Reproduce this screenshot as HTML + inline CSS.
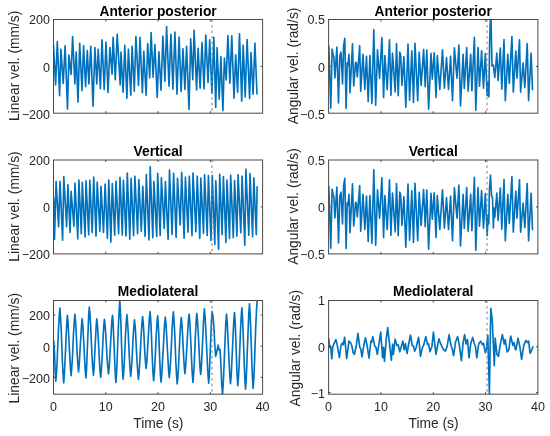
<!DOCTYPE html>
<html lang="en"><head><meta charset="utf-8"><title>Velocity signals</title>
<style>html,body{margin:0;padding:0;background:#fff}body{width:550px;height:436px;overflow:hidden}svg{display:block}text{font-family:"Liberation Sans",Arial,Helvetica,sans-serif}</style></head><body>
<svg width="550" height="436" viewBox="0 0 550 436">
<rect width="550" height="436" fill="#fff"/>
<defs>
<clipPath id="c1"><rect x="53.5" y="19.5" width="209.1" height="93.7"/></clipPath>
<clipPath id="c2"><rect x="328.6" y="19.5" width="209.3" height="93.7"/></clipPath>
<clipPath id="c3"><rect x="53.5" y="160.0" width="209.1" height="93.9"/></clipPath>
<clipPath id="c4"><rect x="328.6" y="160.0" width="209.3" height="93.9"/></clipPath>
<clipPath id="c5"><rect x="53.5" y="300.5" width="209.1" height="93.7"/></clipPath>
<clipPath id="c6"><rect x="328.6" y="300.5" width="209.3" height="93.7"/></clipPath>
</defs>
<g fill="#262626">
<g clip-path="url(#c1)"><path d="M53.5 45.4 L55.6 84.9 L57.3 41.5 L59.6 95.7 L60.9 49.2 L63.2 83.4 L65.1 45.7 L67.5 109.1 L68.9 55.2 L71.1 74.5 L72.6 36.5 L74.9 83.9 L76.2 52.1 L78.0 102.1 L79.7 43.2 L82.0 90.6 L83.6 45.7 L85.6 86.8 L87.3 50.5 L88.9 83.9 L90.8 46.3 L93.0 106.3 L94.9 47.5 L96.8 83.9 L98.2 49.2 L100.4 88.7 L102.0 39.9 L104.2 89.4 L106.0 42.2 L108.0 92.5 L109.9 47.5 L112.1 74.1 L113.1 37.3 L115.3 79.8 L117.2 34.3 L120.2 84.9 L121.0 52.1 L123.1 92.3 L124.8 45.4 L126.9 98.3 L128.4 49.2 L130.8 95.3 L132.1 46.3 L134.3 91.3 L135.9 36.5 L138.5 85.5 L140.0 37.3 L142.4 92.8 L143.8 51.3 L146.1 95.3 L147.7 43.5 L149.7 77.9 L151.1 32.6 L153.1 77.3 L154.9 44.5 L157.2 97.4 L158.9 51.7 L161.0 90.3 L162.9 36.2 L164.9 81.5 L166.6 26.5 L169.0 86.2 L170.9 34.3 L172.9 89.1 L174.9 32.0 L177.0 94.1 L179.1 37.1 L181.1 91.5 L183.0 48.9 L184.9 89.4 L186.6 46.3 L189.0 109.5 L190.7 38.8 L192.8 79.7 L194.1 30.4 L196.6 89.9 L198.1 48.3 L200.1 88.2 L202.0 42.4 L204.0 88.9 L205.8 35.0 L208.0 82.4 L209.7 39.8 L211.9 93.3 L213.8 37.3 L215.7 107.4 L217.1 47.5 L219.2 99.1 L220.9 56.5 L222.9 110.7 L224.4 58.0 L226.2 80.0 L227.9 35.5 L229.9 83.1 L231.8 35.9 L234.0 98.1 L235.7 54.8 L237.6 92.3 L239.5 33.7 L241.7 101.3 L243.2 45.2 L245.2 96.9 L247.1 39.5 L249.6 98.4 L251.0 52.6 L253.1 94.3 L254.9 43.0 L257.0 94.0" fill="none" stroke="#0072BD" stroke-width="1.65" stroke-linejoin="round" stroke-linecap="round"/>
<line x1="212.0" y1="19.5" x2="212.0" y2="113.2" stroke="#808080" stroke-width="1.05" stroke-dasharray="2.4 3.15"/></g>
<rect x="53.5" y="19.5" width="209.1" height="93.7" fill="none" stroke="#484848" stroke-width="1"/>
<path d="M105.78 113.2v-2M105.78 19.5v2M158.05 113.2v-2M158.05 19.5v2M210.33 113.2v-2M210.33 19.5v2M53.5 66.40h2M262.6 66.40h-2" stroke="#484848" stroke-width="1" fill="none"/>
<text x="49.9" y="24.2" font-size="12.5" text-anchor="end">200</text>
<text x="49.9" y="71.7" font-size="12.5" text-anchor="end">0</text>
<text x="49.9" y="118.5" font-size="12.5" text-anchor="end">−200</text>
<text x="158.1" y="15.5" font-size="13.8" font-weight="bold" text-anchor="middle" fill="#000">Anterior posterior</text>
<text transform="translate(19.2 65.9) rotate(-90)" font-size="13.8" text-anchor="middle">Linear vel. (mm/s)</text>
</g>
<g fill="#262626">
<g clip-path="url(#c2)"><path d="M328.8 46.4 L330.8 108.1 L332.1 49.2 L333.3 56.0 L333.9 56.5 L334.9 77.9 L336.9 47.0 L338.5 103.0 L339.8 56.0 L341.0 52.2 L342.5 83.9 L343.6 46.0 L344.8 38.4 L346.1 108.5 L347.2 62.9 L348.0 65.5 L349.0 54.3 L350.0 92.8 L352.5 43.8 L353.7 85.9 L355.6 62.3 L356.3 63.0 L357.3 77.0 L359.7 45.7 L360.7 91.3 L363.0 54.3 L364.8 89.4 L366.5 56.2 L368.2 101.5 L369.9 55.5 L371.9 103.4 L373.8 29.7 L375.7 105.3 L377.5 49.8 L379.6 78.3 L381.9 37.7 L383.6 97.6 L384.9 55.5 L387.2 89.7 L389.5 39.9 L390.9 95.3 L392.5 53.0 L395.2 91.9 L396.5 43.5 L398.2 95.7 L399.8 52.1 L400.7 55.5 L402.0 85.5 L403.9 56.8 L405.8 107.2 L408.0 44.1 L409.6 100.2 L411.8 50.8 L413.5 102.5 L415.0 43.2 L417.7 100.8 L419.2 52.4 L421.1 85.5 L423.6 49.6 L425.2 86.8 L426.8 50.1 L428.6 109.1 L431.0 53.4 L432.3 79.2 L434.2 52.7 L436.0 97.4 L437.3 55.5 L439.8 89.4 L442.5 49.8 L444.4 88.1 L446.5 57.7 L448.5 89.4 L450.6 56.2 L452.5 100.8 L454.4 47.9 L457.0 78.3 L458.9 45.0 L460.5 105.9 L463.1 54.3 L464.3 88.5 L466.7 47.5 L468.1 91.1 L470.7 54.4 L471.9 90.6 L474.4 37.3 L475.8 110.3 L478.0 47.5 L479.5 86.3 L481.6 50.7 L483.5 88.2 L485.3 53.6 L487.2 95.7 L488.0 82.0 L488.9 96.9 L489.6 44.0 L490.7 6.0 L492.0 66.0 L493.3 65.0 L494.8 77.5 L496.8 53.0 L498.1 80.5 L500.3 48.1 L501.8 89.2 L504.0 39.6 L505.3 100.8 L507.8 54.4 L509.3 83.4 L511.9 36.5 L513.3 92.1 L515.8 51.0 L517.0 78.3 L519.5 39.8 L520.6 92.1 L523.1 63.1 L524.8 87.7 L527.2 43.5 L528.6 100.8 L531.1 53.3 L532.5 89.6" fill="none" stroke="#0072BD" stroke-width="1.65" stroke-linejoin="round" stroke-linecap="round"/>
<line x1="487.0" y1="19.5" x2="487.0" y2="113.2" stroke="#808080" stroke-width="1.05" stroke-dasharray="2.4 3.15"/></g>
<rect x="328.6" y="19.5" width="209.3" height="93.7" fill="none" stroke="#484848" stroke-width="1"/>
<path d="M380.93 113.2v-2M380.93 19.5v2M433.25 113.2v-2M433.25 19.5v2M485.57 113.2v-2M485.57 19.5v2M328.6 66.40h2M537.9 66.40h-2" stroke="#484848" stroke-width="1" fill="none"/>
<text x="325.0" y="24.2" font-size="12.5" text-anchor="end">0.5</text>
<text x="325.0" y="71.7" font-size="12.5" text-anchor="end">0</text>
<text x="325.0" y="118.5" font-size="12.5" text-anchor="end">−0.5</text>
<text x="433.2" y="15.5" font-size="13.8" font-weight="bold" text-anchor="middle" fill="#000">Anterior posterior</text>
<text transform="translate(298.2 65.9) rotate(-90)" font-size="13.8" text-anchor="middle">Angular vel. (rad/s)</text>
</g>
<g fill="#262626">
<g clip-path="url(#c3)"><path d="M53.7 198.0 L54.5 239.5 L56.1 181.5 L58.6 226.8 L60.0 181.3 L62.6 240.2 L63.8 176.5 L66.6 226.8 L67.9 184.7 L70.1 232.5 L71.1 191.3 L73.9 226.2 L75.0 183.1 L77.8 238.9 L78.9 180.0 L81.3 233.8 L82.3 182.4 L85.1 237.0 L86.0 180.9 L88.7 234.8 L89.8 180.3 L92.2 232.5 L93.7 177.1 L96.0 236.1 L97.2 182.2 L99.9 231.3 L101.0 186.3 L103.5 232.5 L105.1 184.1 L107.4 238.3 L108.8 180.0 L110.9 242.1 L112.3 183.5 L114.7 235.3 L116.0 181.3 L118.6 233.8 L120.0 177.3 L122.3 235.1 L123.4 180.3 L126.0 236.1 L127.3 173.0 L129.8 239.2 L131.1 178.4 L133.6 235.7 L134.9 176.2 L137.6 233.8 L138.8 179.6 L141.3 231.3 L142.8 186.3 L145.1 236.4 L146.3 174.5 L149.0 239.9 L150.2 166.7 L152.8 237.6 L153.9 181.5 L156.7 236.4 L157.7 173.3 L160.2 235.5 L161.4 177.7 L164.2 228.5 L165.4 181.5 L168.1 239.3 L169.5 170.1 L172.1 234.5 L173.6 173.3 L176.1 237.4 L177.5 178.4 L180.2 224.9 L181.7 172.4 L184.1 238.3 L185.4 177.1 L188.0 232.2 L189.3 176.2 L192.0 235.7 L193.0 173.0 L195.9 231.8 L197.2 176.2 L199.8 238.4 L200.8 178.1 L203.5 233.3 L204.6 174.7 L207.2 235.5 L208.4 175.5 L211.0 240.5 L212.3 175.5 L214.8 244.5 L215.8 180.8 L218.6 249.3 L219.7 174.3 L222.1 234.7 L223.4 176.5 L225.9 242.4 L227.0 180.1 L229.5 238.4 L230.7 175.2 L233.3 237.6 L234.6 180.5 L236.9 236.2 L238.1 174.7 L240.8 232.8 L242.1 176.2 L244.8 245.3 L245.9 169.2 L248.8 235.2 L250.0 173.6 L252.6 236.6 L253.8 177.9 L256.3 234.7 L257.1 186.8" fill="none" stroke="#0072BD" stroke-width="1.65" stroke-linejoin="round" stroke-linecap="round"/>
<line x1="212.0" y1="160.0" x2="212.0" y2="253.9" stroke="#808080" stroke-width="1.05" stroke-dasharray="2.4 3.15"/></g>
<rect x="53.5" y="160.0" width="209.1" height="93.9" fill="none" stroke="#484848" stroke-width="1"/>
<path d="M105.78 253.9v-2M105.78 160.0v2M158.05 253.9v-2M158.05 160.0v2M210.33 253.9v-2M210.33 160.0v2M53.5 206.90h2M262.6 206.90h-2" stroke="#484848" stroke-width="1" fill="none"/>
<text x="49.9" y="164.7" font-size="12.5" text-anchor="end">200</text>
<text x="49.9" y="212.2" font-size="12.5" text-anchor="end">0</text>
<text x="49.9" y="259.2" font-size="12.5" text-anchor="end">−200</text>
<text x="158.1" y="156.0" font-size="13.8" font-weight="bold" text-anchor="middle" fill="#000">Vertical</text>
<text transform="translate(19.2 206.5) rotate(-90)" font-size="13.8" text-anchor="middle">Linear vel. (mm/s)</text>
</g>
<g fill="#262626">
<g clip-path="url(#c4)"><path d="M328.8 186.4 L330.8 248.1 L332.1 189.2 L333.3 196.0 L333.9 196.5 L334.9 217.9 L336.9 187.0 L338.5 243.0 L339.8 196.0 L341.0 192.2 L342.5 223.9 L343.6 186.0 L344.8 178.4 L346.1 248.5 L347.2 202.9 L348.0 205.5 L349.0 194.3 L350.0 232.8 L352.5 183.8 L353.7 225.9 L355.6 202.3 L356.3 203.0 L357.3 217.0 L359.7 185.7 L360.7 231.3 L363.0 194.3 L364.8 229.4 L366.5 196.2 L368.2 241.5 L369.9 195.5 L371.9 243.4 L373.8 169.7 L375.7 245.3 L377.5 189.8 L379.6 218.3 L381.9 177.7 L383.6 237.6 L384.9 195.5 L387.2 229.7 L389.5 179.9 L390.9 235.3 L392.5 193.0 L395.2 231.9 L396.5 183.5 L398.2 235.7 L399.8 192.1 L400.7 195.5 L402.0 225.5 L403.9 196.8 L405.8 247.2 L408.0 184.1 L409.6 240.2 L411.8 190.8 L413.5 242.5 L415.0 183.2 L417.7 240.8 L419.2 192.4 L421.1 225.5 L423.6 189.6 L425.2 226.8 L426.8 190.1 L428.6 249.1 L431.0 193.4 L432.3 219.2 L434.2 192.7 L436.0 237.4 L437.3 195.5 L439.8 229.4 L442.5 189.8 L444.4 228.1 L446.5 197.7 L448.5 229.4 L450.6 196.2 L452.5 240.8 L454.4 187.9 L457.0 218.3 L458.9 185.0 L460.5 245.9 L463.1 194.3 L464.3 228.5 L466.7 187.5 L468.1 231.1 L470.7 194.4 L471.9 230.6 L474.4 177.3 L475.8 250.3 L478.0 187.5 L479.5 226.3 L481.6 190.7 L483.5 228.2 L485.3 193.6 L487.2 235.7 L488.0 215.0 L488.8 224.0 L489.4 190.0 L490.5 175.0 L491.6 196.0 L492.5 197.5 L493.4 228.0 L494.0 208.0 L494.8 217.5 L496.8 193.0 L498.1 220.5 L500.3 188.1 L501.8 229.2 L504.0 179.6 L505.3 240.8 L507.8 194.4 L509.3 223.4 L511.9 176.5 L513.3 232.1 L515.8 191.0 L517.0 218.3 L519.5 179.8 L520.6 232.1 L523.1 203.1 L524.8 227.7 L527.2 183.5 L528.6 240.8 L531.1 193.3 L532.5 229.6" fill="none" stroke="#0072BD" stroke-width="1.65" stroke-linejoin="round" stroke-linecap="round"/>
<line x1="487.0" y1="160.0" x2="487.0" y2="253.9" stroke="#808080" stroke-width="1.05" stroke-dasharray="2.4 3.15"/></g>
<rect x="328.6" y="160.0" width="209.3" height="93.9" fill="none" stroke="#484848" stroke-width="1"/>
<path d="M380.93 253.9v-2M380.93 160.0v2M433.25 253.9v-2M433.25 160.0v2M485.57 253.9v-2M485.57 160.0v2M328.6 206.90h2M537.9 206.90h-2" stroke="#484848" stroke-width="1" fill="none"/>
<text x="325.0" y="164.7" font-size="12.5" text-anchor="end">0.5</text>
<text x="325.0" y="212.2" font-size="12.5" text-anchor="end">0</text>
<text x="325.0" y="259.2" font-size="12.5" text-anchor="end">−0.5</text>
<text x="433.2" y="156.0" font-size="13.8" font-weight="bold" text-anchor="middle" fill="#000">Vertical</text>
<text transform="translate(298.2 206.5) rotate(-90)" font-size="13.8" text-anchor="middle">Angular vel. (rad/s)</text>
</g>
<g fill="#262626">
<g clip-path="url(#c5)"><path d="M53.8 341.2 L54.1 345.7 L54.5 352.7 L54.8 361.2 L55.1 369.7 L55.5 376.7 L55.8 381.2 L56.5 373.0 L57.2 360.2 L57.8 344.6 L58.5 329.1 L59.2 316.3 L59.9 308.1 L60.5 316.5 L61.2 329.6 L61.8 345.6 L62.4 361.5 L63.1 374.6 L63.7 383.0 L64.3 375.4 L64.9 363.5 L65.6 349.1 L66.2 334.8 L66.8 322.9 L67.4 315.3 L68.0 322.1 L68.6 332.7 L69.2 345.5 L69.9 358.3 L70.5 368.9 L71.1 375.7 L71.7 368.8 L72.4 358.0 L73.0 344.9 L73.6 331.9 L74.3 321.1 L74.9 314.2 L75.5 320.7 L76.1 330.8 L76.7 343.0 L77.3 355.3 L77.9 365.4 L78.5 371.9 L79.1 365.9 L79.7 356.6 L80.3 345.3 L81.0 334.0 L81.6 324.7 L82.2 318.7 L82.8 325.3 L83.4 335.7 L84.1 348.3 L84.7 360.9 L85.3 371.3 L85.9 377.9 L86.5 370.0 L87.0 357.5 L87.6 342.5 L88.2 327.5 L88.7 315.0 L89.3 307.1 L90.0 314.7 L90.7 326.7 L91.3 341.1 L92.0 355.6 L92.7 367.5 L93.4 375.1 L94.0 368.8 L94.5 358.9 L95.1 347.0 L95.7 335.1 L96.2 325.2 L96.8 318.9 L97.5 325.4 L98.1 335.7 L98.8 348.1 L99.4 360.6 L100.0 370.9 L100.7 377.4 L101.3 370.9 L101.9 360.7 L102.6 348.4 L103.2 336.0 L103.8 325.8 L104.4 319.3 L105.1 325.4 L105.8 335.0 L106.5 346.6 L107.1 358.1 L107.8 367.7 L108.5 373.8 L109.2 367.3 L109.8 357.0 L110.5 344.6 L111.2 332.1 L111.8 321.8 L112.5 315.3 L113.1 322.8 L113.6 334.6 L114.2 348.9 L114.8 363.2 L115.3 375.0 L115.9 382.5 L116.6 373.3 L117.2 358.9 L117.8 341.5 L118.5 324.1 L119.2 309.7 L119.8 300.5 L120.3 309.3 L120.9 323.1 L121.4 339.9 L122.0 356.6 L122.5 370.4 L123.1 379.2 L123.7 372.0 L124.4 360.6 L125.0 346.9 L125.6 333.1 L126.3 321.7 L126.9 314.5 L127.5 321.4 L128.2 332.3 L128.8 345.4 L129.4 358.6 L130.1 369.5 L130.7 376.4 L131.3 370.1 L132.0 360.1 L132.6 348.1 L133.2 336.1 L133.9 326.1 L134.5 319.8 L135.2 326.5 L135.8 337.0 L136.4 349.6 L137.1 362.3 L137.8 372.8 L138.4 379.5 L139.1 372.5 L139.8 361.4 L140.5 348.1 L141.2 334.7 L141.9 323.6 L142.6 316.6 L143.2 322.4 L143.8 331.5 L144.3 342.6 L144.9 353.6 L145.5 362.7 L146.1 368.5 L146.8 362.1 L147.4 352.1 L148.1 340.0 L148.8 327.9 L149.4 317.9 L150.1 311.5 L150.7 319.3 L151.3 331.4 L151.8 346.1 L152.4 360.9 L153.0 373.0 L153.6 380.8 L154.3 373.5 L155.0 362.1 L155.6 348.2 L156.3 334.4 L157.0 323.0 L157.7 315.7 L158.2 323.1 L158.8 334.8 L159.3 348.9 L159.9 363.0 L160.4 374.7 L161.0 382.1 L161.7 374.8 L162.4 363.4 L163.2 349.6 L163.9 335.7 L164.6 324.3 L165.3 317.0 L166.0 323.8 L166.6 334.4 L167.3 347.3 L168.0 360.2 L168.6 370.8 L169.3 377.6 L170.0 370.3 L170.7 358.7 L171.4 344.8 L172.0 330.8 L172.7 319.2 L173.4 311.9 L174.0 320.0 L174.7 332.6 L175.3 347.9 L175.9 363.3 L176.6 375.9 L177.2 384.0 L177.9 376.6 L178.6 364.9 L179.2 350.8 L179.9 336.7 L180.6 325.0 L181.3 317.6 L181.9 323.9 L182.5 333.7 L183.1 345.6 L183.7 357.6 L184.3 367.4 L184.9 373.7 L185.6 367.0 L186.3 356.5 L187.0 343.9 L187.7 331.2 L188.4 320.7 L189.1 314.0 L189.8 321.7 L190.4 333.7 L191.1 348.2 L191.7 362.8 L192.3 374.8 L193.0 382.5 L193.6 374.8 L194.3 362.6 L194.9 347.9 L195.5 333.2 L196.2 321.0 L196.8 313.3 L197.5 320.1 L198.1 330.9 L198.8 343.9 L199.4 356.9 L200.0 367.7 L200.7 374.5 L201.3 367.2 L201.9 355.6 L202.6 341.7 L203.2 327.8 L203.8 316.2 L204.4 308.9 L205.1 317.2 L205.8 330.3 L206.6 346.1 L207.3 361.9 L208.0 375.0 L208.7 383.3 L209.3 375.3 L209.8 362.7 L210.4 347.4 L211.0 332.1 L211.5 319.5 L212.1 311.5 L213.1 317.5 L213.5 321.9 L214.0 328.7 L214.4 336.9 L214.8 345.2 L215.3 352.0 L215.7 356.4 L218.2 345.0 L218.9 349.8 L219.9 349.1 L220.3 354.1 L220.8 362.1 L221.2 371.6 L221.6 381.2 L222.1 389.2 L222.5 394.2 L223.2 385.2 L223.8 371.1 L224.5 354.1 L225.2 337.1 L225.8 323.0 L226.5 314.0 L227.2 321.8 L227.8 334.0 L228.5 348.9 L229.2 363.7 L229.8 375.9 L230.5 383.7 L231.2 375.7 L231.8 363.2 L232.5 348.1 L233.2 333.0 L233.8 320.5 L234.5 312.5 L235.1 320.7 L235.6 333.5 L236.2 349.1 L236.7 364.7 L237.2 377.5 L237.8 385.7 L238.5 377.0 L239.2 363.3 L239.9 346.8 L240.5 330.3 L241.2 316.6 L241.9 307.9 L242.5 317.0 L243.1 331.2 L243.7 348.5 L244.3 365.8 L244.9 380.0 L245.5 389.1 L246.2 379.6 L246.8 364.6 L247.5 346.5 L248.2 328.3 L248.8 313.3 L249.5 303.8 L250.1 313.3 L250.7 328.1 L251.3 346.1 L251.9 364.1 L252.5 378.9 L253.1 388.4 L253.8 378.6 L254.5 363.1 L255.1 344.4 L255.8 325.8 L256.5 310.3 L257.2 300.5" fill="none" stroke="#0072BD" stroke-width="1.65" stroke-linejoin="round" stroke-linecap="round"/>
<line x1="212.0" y1="300.5" x2="212.0" y2="394.2" stroke="#808080" stroke-width="1.05" stroke-dasharray="2.4 3.15"/></g>
<rect x="53.5" y="300.5" width="209.1" height="93.7" fill="none" stroke="#484848" stroke-width="1"/>
<path d="M105.78 394.2v-2M105.78 300.5v2M158.05 394.2v-2M158.05 300.5v2M210.33 394.2v-2M210.33 300.5v2M53.5 315.00h2M262.6 315.00h-2M53.5 346.20h2M262.6 346.20h-2M53.5 377.40h2M262.6 377.40h-2" stroke="#484848" stroke-width="1" fill="none"/>
<text x="49.9" y="320.3" font-size="12.5" text-anchor="end">200</text>
<text x="49.9" y="351.5" font-size="12.5" text-anchor="end">0</text>
<text x="49.9" y="382.7" font-size="12.5" text-anchor="end">−200</text>
<text x="158.1" y="295.9" font-size="13.8" font-weight="bold" text-anchor="middle" fill="#000">Mediolateral</text>
<text transform="translate(19.2 348.2) rotate(-90)" font-size="13.8" text-anchor="middle">Linear vel. (mm/s)</text>
<text x="53.50" y="410.7" font-size="12.5" text-anchor="middle">0</text>
<text x="105.78" y="410.7" font-size="12.5" text-anchor="middle">10</text>
<text x="158.05" y="410.7" font-size="12.5" text-anchor="middle">20</text>
<text x="210.33" y="410.7" font-size="12.5" text-anchor="middle">30</text>
<text x="262.60" y="410.7" font-size="12.5" text-anchor="middle">40</text>
<text x="158.4" y="428.0" font-size="13.8" text-anchor="middle">Time (s)</text>
</g>
<g fill="#262626">
<g clip-path="url(#c6)"><path d="M328.8 339.1 L329.6 347.4 L330.6 346.1 L331.8 358.8 L332.7 347.4 L334.0 343.6 L335.9 339.7 L337.2 344.8 L339.4 357.6 L341.0 345.5 L342.3 342.9 L343.2 344.8 L344.6 337.2 L346.7 358.6 L348.9 341.0 L350.6 342.9 L351.8 345.5 L353.1 352.5 L354.4 354.4 L356.3 345.5 L357.9 333.4 L359.8 347.4 L360.7 348.6 L362.0 356.9 L363.9 344.8 L365.4 337.8 L367.1 345.5 L369.0 358.2 L370.9 341.0 L371.6 342.3 L372.8 336.6 L374.7 346.1 L376.0 347.4 L377.3 354.4 L379.2 342.3 L380.7 332.1 L382.6 357.6 L383.6 347.4 L384.5 361.4 L386.2 339.1 L387.7 327.6 L389.6 344.8 L391.3 360.1 L392.6 344.2 L393.4 354.4 L395.1 339.1 L396.9 345.5 L398.2 344.8 L399.8 351.8 L401.4 346.1 L402.9 341.0 L404.2 349.9 L405.4 343.6 L407.1 353.4 L408.4 345.5 L410.5 335.0 L412.2 345.5 L413.4 346.1 L414.7 351.2 L416.0 348.0 L418.6 337.2 L420.5 356.3 L422.4 347.4 L423.6 345.5 L425.8 336.6 L427.5 344.2 L428.5 343.6 L430.0 351.8 L431.9 346.7 L433.4 332.1 L436.0 354.4 L437.6 345.5 L438.9 338.8 L440.8 344.2 L443.4 349.3 L445.3 351.2 L447.2 346.1 L449.1 334.6 L451.0 345.5 L452.3 349.3 L453.6 355.6 L455.5 342.3 L457.6 336.6 L459.3 344.8 L461.4 360.7 L463.1 342.9 L464.6 334.6 L466.1 344.0 L467.5 339.6 L469.0 357.8 L470.7 344.0 L472.6 337.4 L474.4 344.0 L475.4 346.2 L476.8 357.8 L478.7 344.0 L480.6 341.1 L482.4 344.7 L483.5 343.3 L485.3 352.7 L486.4 349.1 L487.8 335.3 L489.4 394.2 L490.8 308.4 L492.2 319.3 L494.3 365.8 L495.2 338.2 L496.9 354.2 L498.4 356.4 L500.1 345.4 L502.4 334.6 L504.2 344.0 L505.2 339.6 L507.1 352.0 L508.8 349.8 L510.7 336.0 L512.9 345.4 L514.1 342.6 L515.5 349.8 L516.1 349.1 L518.0 338.2 L519.9 346.9 L521.6 359.3 L523.8 345.4 L526.0 340.4 L527.5 342.6 L528.6 341.1 L530.1 353.4 L531.5 350.6 L532.8 346.9" fill="none" stroke="#0072BD" stroke-width="1.65" stroke-linejoin="round" stroke-linecap="round"/>
<line x1="487.0" y1="300.5" x2="487.0" y2="394.2" stroke="#808080" stroke-width="1.05" stroke-dasharray="2.4 3.15"/></g>
<rect x="328.6" y="300.5" width="209.3" height="93.7" fill="none" stroke="#484848" stroke-width="1"/>
<path d="M380.93 394.2v-2M380.93 300.5v2M433.25 394.2v-2M433.25 300.5v2M485.57 394.2v-2M485.57 300.5v2M328.6 346.80h2M537.9 346.80h-2M328.6 392.50h2M537.9 392.50h-2" stroke="#484848" stroke-width="1" fill="none"/>
<text x="325.0" y="305.3" font-size="12.5" text-anchor="end">1</text>
<text x="325.0" y="352.1" font-size="12.5" text-anchor="end">0</text>
<text x="325.0" y="397.8" font-size="12.5" text-anchor="end">−1</text>
<text x="433.2" y="295.9" font-size="13.8" font-weight="bold" text-anchor="middle" fill="#000">Mediolateral</text>
<text transform="translate(299.6 348.2) rotate(-90)" font-size="13.8" text-anchor="middle">Angular vel. (rad/s)</text>
<text x="328.60" y="410.7" font-size="12.5" text-anchor="middle">0</text>
<text x="380.93" y="410.7" font-size="12.5" text-anchor="middle">10</text>
<text x="433.25" y="410.7" font-size="12.5" text-anchor="middle">20</text>
<text x="485.57" y="410.7" font-size="12.5" text-anchor="middle">30</text>
<text x="537.90" y="410.7" font-size="12.5" text-anchor="middle">40</text>
<text x="433.6" y="428.0" font-size="13.8" text-anchor="middle">Time (s)</text>
</g>
</svg></body></html>
